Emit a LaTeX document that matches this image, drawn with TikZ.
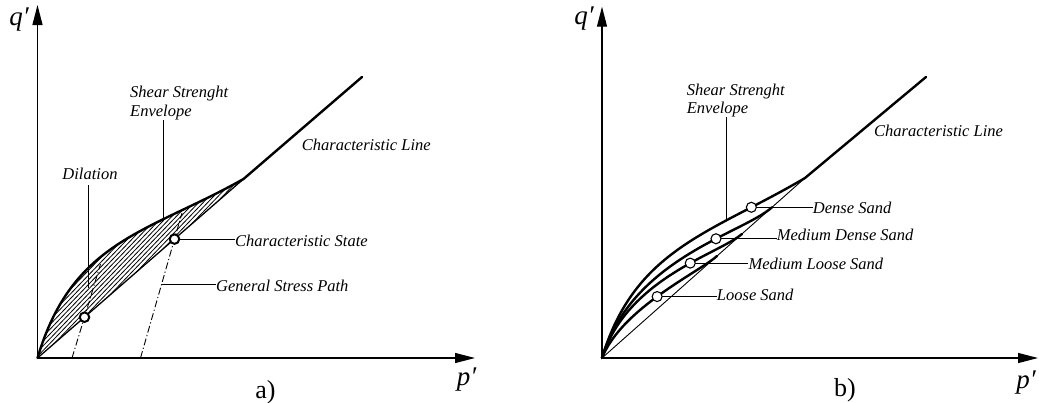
\documentclass[tikz,border=0pt]{standalone}
\usepackage{fontspec}
\setmainfont{Liberation Serif}
\usetikzlibrary{arrows.meta}
\begin{document}
\begin{tikzpicture}[x=1pt,y=-1pt,
  axis/.style={line width=1.2pt,-{Triangle[length=20pt,width=10pt]}},
  env/.style={line width=2.4pt,line join=round,line cap=round},
  lowline/.style={line width=1.3pt},
  thinline/.style={line width=0.9pt},
  leader/.style={line width=0.9pt},
  hatch/.style={line width=0.8pt},
  stresspath/.style={line width=0.9pt,dash pattern=on 7pt off 2.5pt on 1.2pt off 2.5pt},
  lbl/.style={font=\fontsize{16.5}{19}\selectfont\itshape,inner sep=0pt},
  axlbl/.style={font=\fontsize{27}{30}\selectfont\itshape,inner sep=0pt},
  sublbl/.style={font=\fontsize{26}{30}\selectfont,inner sep=0pt},
  markA/.style={circle,draw,line width=2pt,fill=white,minimum size=9.5pt,inner sep=0pt},
  markB/.style={circle,draw,line width=1.1pt,fill=white,minimum size=10pt,inner sep=0pt}]
\fill[white] (0,0) rectangle (1039,402);
\useasboundingbox (0,0) rectangle (1039,402);

% ---------------- panel a ----------------
\coordinate (Oa) at (37.5,358);
\coordinate (Ka) at (243.5,179);
\coordinate (Ea) at (362,77);
\coordinate (Ya) at (37.5,5);
\coordinate (Xa) at (475,358);

\begin{scope}
  \clip (Oa) .. controls (72.5,240) and (147.5,233) .. (Ka) -- cycle;
  \foreach \x in {-200,-195.5,...,250} \draw[hatch] (\x,360) -- ++(240,-250);
\end{scope}

\coordinate (C1) at (84.5,317.2);
\coordinate (C2) at (174.5,239.1);
\coordinate (S1) at (72,358);
\coordinate (T1) at (100.5,264);
\coordinate (S2) at (140.5,358);
\coordinate (T2) at (182,213);
\coordinate (gsp) at (161.7,284);

\draw[stresspath] (S1) -- (C1) -- (T1);
\draw[stresspath] (S2) -- (C2) -- (T2);

\draw[lowline] (Oa) -- (Ka);
\draw[env] (Oa) .. controls (72.5,240) and (147.5,233) .. (Ka) coordinate[pos=0.7] (envA) -- (Ea);

\draw[axis] (Oa) -- (Ya);
\draw[axis] (Oa) -- (Xa);

\node[lbl,anchor=base west] (sseA1) at (130,97.7) {Shear Strenght};
\node[lbl,anchor=base west] (sseA2) at (130,116.7) {Envelope};
\draw[leader] (envA) -- (envA |- sseA2.south);

\node[lbl,anchor=base] (dil) at (90,179.3) {Dilation};
\coordinate (dilTop) at (88,185);
\coordinate (dilBot) at (88,288);
\draw[leader] (dilTop) -- (dilBot);

\node[lbl,anchor=base west] (clA) at (301.7,150.7) {Characteristic Line};
\node[lbl,anchor=base west] (csA) at (235,246.7) {Characteristic State};
\node[lbl,anchor=base west] (gspA) at (216,291.7) {General Stress Path};

\node[markA] (c1) at (C1) {};
\node[markA] (c2) at (C2) {};
\draw[leader] (c2) -- (c2 -| csA.west);
\draw[leader] (gsp) -- (gsp -| gspA.west);

\node[axlbl,anchor=base] (qA) at (19,25) {q′};
\node[axlbl,anchor=base] (pA) at (466.5,385) {p′};
\node[sublbl,anchor=base] (la) at (265.5,398) {a)};

% ---------------- panel b ----------------
\coordinate (Ob) at (602,358);
\coordinate (Kb) at (805,178);
\coordinate (Eb) at (926,77);
\coordinate (Yb) at (602,6.7);
\coordinate (Xb) at (1038,358);
\coordinate (Mmd) at (772,207.3);
\coordinate (Mml) at (742,233.9);
\coordinate (Mls) at (717,256);

\draw[thinline] (Ob) -- (Kb);
\draw[env] (Ob) .. controls (635,248) and (712,233) .. (Kb) coordinate[pos=0.8] (cD) coordinate[pos=0.7] (envB) -- (Eb);
\draw[env] (Ob) .. controls (632,258) and (742,234) .. (Mmd) coordinate[pos=0.64] (cMD);
\draw[env] (Ob) .. controls (627,278) and (719.6,253.8) .. (Mml) coordinate[pos=0.6] (cML);
\draw[env] (Ob) .. controls (622,308) and (698.3,272.6) .. (Mls) coordinate[pos=0.48] (cLS);

\draw[axis] (Ob) -- (Yb);
\draw[axis] (Ob) -- (Xb);

\node[lbl,anchor=base west] (sseB1) at (686.7,95) {Shear Strenght};
\node[lbl,anchor=base west] (sseB2) at (686.7,113.3) {Envelope};
\draw[leader] (envB) -- (envB |- sseB2.south);

\node[lbl,anchor=base west] (clB) at (874,136.7) {Characteristic Line};
\node[lbl,anchor=base west] (tD) at (812.7,213.3) {Dense Sand};
\node[lbl,anchor=base west] (tMD) at (776.7,240.7) {Medium Dense Sand};
\node[lbl,anchor=base west] (tML) at (748.3,269.3) {Medium Loose Sand};
\node[lbl,anchor=base west] (tLS) at (716.7,300) {Loose Sand};

\draw[leader] (cD) -- (cD -| tD.west);
\draw[leader] (cMD) -- (cMD -| tMD.west);
\draw[leader] (cML) -- (cML -| tML.west);
\draw[leader] (cLS) -- (cLS -| tLS.west);

\node[markB] (d) at (cD) {};
\node[markB] (md) at (cMD) {};
\node[markB] (ml) at (cML) {};
\node[markB] (ls) at (cLS) {};

\node[axlbl,anchor=base] (qB) at (584,24.5) {q′};
\node[axlbl,anchor=base] (pB) at (1026,388) {p′};
\node[sublbl,anchor=base] (lb) at (845,396) {b)};
\end{tikzpicture}
\end{document}
